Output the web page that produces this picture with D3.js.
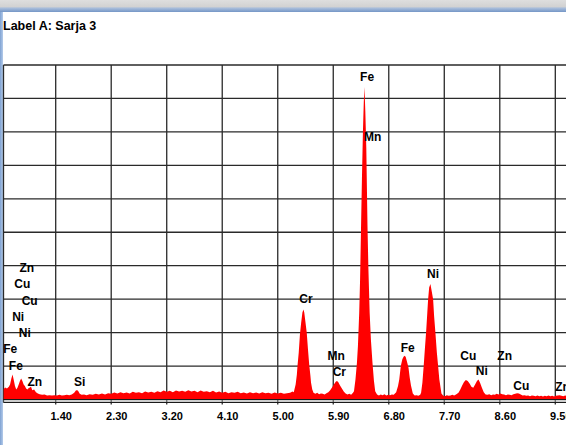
<!DOCTYPE html>
<html>
<head>
<meta charset="utf-8">
<script src="https://cdn.jsdelivr.net/npm/d3@7"></script>
<style>
body { margin: 0; background: #fff; overflow: hidden; }
svg { display: block; }
</style>
</head>
<body>
<script>
// title of the spectrum
var title = "Label A: Sarja 3";

// x axis ticks (keV)
var tickValues = [1.40, 2.30, 3.20, 4.10, 5.00, 5.90, 6.80, 7.70, 8.60, 9.50];

// horizontal grid levels (counts)
var gridLevels = [100, 200, 300, 400, 500, 600, 700, 800, 900, 1000];

// spectrum: [energy keV, counts]
var spectrum = [
    [0.55, 30], [0.58, 36], [0.61, 33], [0.64, 38], [0.66, 45], [0.68, 62], [0.70, 75], [0.72, 58],
    [0.74, 40], [0.76, 30], [0.78, 35], [0.80, 45], [0.82, 55], [0.84, 63], [0.86, 55], [0.88, 45],
    [0.90, 40], [0.92, 33], [0.94, 30], [0.96, 34], [0.98, 36], [1.00, 38], [1.02, 28], [1.05, 30],
    [1.08, 22], [1.11, 18], [1.14, 16], [1.18, 14], [1.22, 15], [1.26, 12], [1.30, 13], [1.34, 12],
    [1.38, 13], [1.42, 12], [1.46, 14], [1.50, 12], [1.54, 13], [1.58, 14], [1.62, 13], [1.66, 15],
    [1.70, 20], [1.73, 28], [1.76, 27], [1.79, 17], [1.82, 14], [1.86, 15], [1.90, 13], [1.95, 16],
    [2.00, 14], [2.05, 17], [2.10, 15], [2.15, 18], [2.20, 15], [2.25, 19], [2.30, 17], [2.35, 21],
    [2.40, 18], [2.45, 22], [2.50, 19], [2.55, 21], [2.60, 18], [2.65, 23], [2.70, 20], [2.75, 22],
    [2.80, 19], [2.85, 24], [2.90, 21], [2.95, 23], [3.00, 20], [3.05, 25], [3.10, 22], [3.15, 27],
    [3.20, 23], [3.25, 26], [3.30, 22], [3.35, 27], [3.40, 24], [3.45, 26], [3.50, 23], [3.55, 28],
    [3.60, 24], [3.65, 26], [3.70, 22], [3.75, 27], [3.80, 23], [3.85, 25], [3.90, 22], [3.95, 26],
    [4.00, 21], [4.05, 24], [4.10, 20], [4.15, 23], [4.20, 19], [4.25, 22], [4.30, 20], [4.35, 23],
    [4.40, 19], [4.45, 21], [4.50, 18], [4.55, 22], [4.60, 19], [4.65, 21], [4.70, 18], [4.75, 22],
    [4.80, 19], [4.85, 20], [4.90, 17], [4.95, 21], [5.00, 18], [5.05, 20], [5.10, 17], [5.15, 19],
    [5.20, 20], [5.24, 24], [5.26, 22], [5.29, 45], [5.31, 75], [5.32, 100], [5.34, 140], [5.36, 195],
    [5.38, 230], [5.40, 260], [5.417, 269], [5.43, 260], [5.45, 230], [5.47, 200], [5.49, 150], [5.51, 105],
    [5.53, 70], [5.54, 50], [5.56, 30], [5.58, 20], [5.61, 17], [5.64, 20], [5.67, 16], [5.70, 18],
    [5.73, 17], [5.76, 15], [5.79, 19], [5.82, 22], [5.85, 28], [5.88, 36], [5.91, 45], [5.94, 53],
    [5.96, 55], [5.98, 52], [6.01, 42], [6.04, 33], [6.07, 24], [6.10, 18], [6.13, 15], [6.16, 17],
    [6.19, 14], [6.22, 20], [6.236, 25], [6.26, 60], [6.284, 110], [6.30, 160], [6.321, 260], [6.335, 360],
    [6.349, 500], [6.365, 660], [6.381, 800], [6.395, 890], [6.406, 934], [6.42, 860], [6.436, 750], [6.455, 520],
    [6.47, 390], [6.49, 260], [6.51, 180], [6.536, 110], [6.56, 55], [6.58, 25], [6.61, 15], [6.64, 12],
    [6.67, 15], [6.70, 13], [6.73, 16], [6.76, 12], [6.79, 14], [6.82, 13], [6.85, 15], [6.88, 14],
    [6.92, 22], [6.95, 40], [6.97, 60], [6.995, 100], [7.02, 120], [7.04, 128], [7.058, 131], [7.075, 127],
    [7.10, 110], [7.12, 95], [7.14, 65], [7.16, 42], [7.19, 18], [7.22, 12], [7.25, 13], [7.28, 11],
    [7.31, 14], [7.324, 20], [7.345, 50], [7.366, 100], [7.385, 150], [7.405, 200], [7.425, 260], [7.438, 300],
    [7.455, 335], [7.475, 345], [7.49, 330], [7.519, 300], [7.535, 250], [7.556, 200], [7.58, 140], [7.60, 100],
    [7.62, 60], [7.64, 35], [7.654, 18], [7.68, 12], [7.71, 10], [7.74, 13], [7.77, 11], [7.80, 12],
    [7.83, 14], [7.86, 12], [7.89, 15], [7.93, 20], [7.96, 30], [7.99, 42], [8.02, 52], [8.05, 58],
    [8.08, 55], [8.11, 48], [8.14, 38], [8.17, 35], [8.20, 45], [8.23, 55], [8.255, 60], [8.28, 50],
    [8.31, 35], [8.34, 22], [8.37, 15], [8.40, 14], [8.43, 16], [8.46, 13], [8.49, 15], [8.52, 14],
    [8.55, 17], [8.58, 15], [8.61, 18], [8.64, 16], [8.67, 15], [8.70, 13], [8.73, 15], [8.76, 14],
    [8.79, 13], [8.82, 16], [8.85, 17], [8.88, 19], [8.91, 18], [8.94, 15], [8.97, 12], [9.00, 13],
    [9.03, 11], [9.06, 12], [9.09, 10], [9.12, 12], [9.15, 11], [9.18, 10], [9.21, 12], [9.24, 10],
    [9.27, 11], [9.30, 9], [9.33, 11], [9.36, 10], [9.39, 12], [9.42, 10], [9.45, 11], [9.48, 9],
    [9.51, 11], [9.54, 12], [9.57, 13], [9.60, 11], [9.63, 10], [9.66, 12], [9.69, 10], [9.72, 11]
];

// element markers: name, line energy (keV), label height (counts)
var peakLabels = [
    { el: "Fe", keV: 6.40, level: 952 },
    { el: "Mn", keV: 6.49, level: 773 },
    { el: "Cr", keV: 5.41, level: 288 },
    { el: "Mn", keV: 5.90, level: 118 },
    { el: "Cr", keV: 5.95, level: 69 },
    { el: "Fe", keV: 7.06, level: 143 },
    { el: "Ni", keV: 7.47, level: 363 },
    { el: "Cu", keV: 8.04, level: 118 },
    { el: "Ni", keV: 8.26, level: 72 },
    { el: "Zn", keV: 8.63, level: 118 },
    { el: "Cu", keV: 8.90, level: 28 },
    { el: "Zn", keV: 9.57, level: 25 },
    { el: "Zn", keV: 0.884, level: 381 },
    { el: "Cu", keV: 0.811, level: 333 },
    { el: "Cu", keV: 0.930, level: 283 },
    { el: "Ni", keV: 0.743, level: 235 },
    { el: "Ni", keV: 0.851, level: 187 },
    { el: "Fe", keV: 0.615, level: 139 },
    { el: "Fe", keV: 0.705, level: 88 },
    { el: "Zn", keV: 1.012, level: 39 },
    { el: "Si", keV: 1.74, level: 39 }
];

var width = 566;
var height = 445;
var plotLeft = 3.5;
var plotTop = 65;
var plotBottom = 399.5;

var svg = d3.select("body").append("svg").attr("width", width).attr("height", height);

// window frame
var defs = svg.append("defs");
var topGrad = defs.append("linearGradient").attr("id", "topGrad").attr("x1", 0).attr("y1", 0).attr("x2", 0).attr("y2", 1);
topGrad.append("stop").attr("offset", "0%").attr("stop-color", "#dedede");
topGrad.append("stop").attr("offset", "55%").attr("stop-color", "#d2d2d2");
topGrad.append("stop").attr("offset", "68%").attr("stop-color", "#a8bddb");
topGrad.append("stop").attr("offset", "100%").attr("stop-color", "#7496c6");
var leftGrad = defs.append("linearGradient").attr("id", "leftGrad").attr("x1", 0).attr("y1", 0).attr("x2", 1).attr("y2", 0);
leftGrad.append("stop").attr("offset", "0%").attr("stop-color", "#7fa2d2");
leftGrad.append("stop").attr("offset", "100%").attr("stop-color", "#b4cbea");
defs.append("clipPath").attr("id", "plotClip")
    .append("rect").attr("x", plotLeft).attr("y", plotTop).attr("width", width - plotLeft).attr("height", plotBottom - plotTop);

svg.append("rect").attr("x", 0).attr("y", 0).attr("width", width).attr("height", 12).attr("fill", "url(#topGrad)");
svg.append("rect").attr("x", 0).attr("y", 12).attr("width", 3).attr("height", height - 12).attr("fill", "url(#leftGrad)");

// scales
var x = d3.scaleLinear().domain([1.4, 9.5]).range([55.7, 555.3]);
var y = d3.scaleLinear().domain([0, 1000]).range([plotBottom, plotTop]);

// grid
svg.append("g").selectAll("line")
    .data(gridLevels)
    .enter()
    .append("line")
    .attr("x1", plotLeft)
    .attr("x2", width)
    .attr("y1", function (d) { return y(d); })
    .attr("y2", function (d) { return y(d); })
    .attr("stroke", "#2a2a2a")
    .attr("stroke-width", 1.3);

svg.append("g").selectAll("line")
    .data(tickValues)
    .enter()
    .append("line")
    .attr("x1", function (d) { return x(d); })
    .attr("x2", function (d) { return x(d); })
    .attr("y1", plotTop)
    .attr("y2", plotBottom + 5)
    .attr("stroke", "#2a2a2a")
    .attr("stroke-width", 1.3);

svg.append("line").attr("x1", plotLeft).attr("x2", plotLeft).attr("y1", plotTop).attr("y2", plotBottom + 3)
    .attr("stroke", "#2a2a2a").attr("stroke-width", 1.3);

// spectrum
var area = d3.area()
    .x(function (d) { return x(d[0]); })
    .y0(y(0))
    .y1(function (d) { return y(d[1]); });

svg.append("path")
    .datum(spectrum)
    .attr("clip-path", "url(#plotClip)")
    .attr("fill", "#ff0000")
    .attr("d", area);

// baseline (double line)
svg.append("line").attr("x1", plotLeft).attr("x2", width).attr("y1", plotBottom).attr("y2", plotBottom)
    .attr("stroke", "#1a1a1a").attr("stroke-width", 1);
svg.append("line").attr("x1", plotLeft).attr("x2", width).attr("y1", plotBottom + 1.5).attr("y2", plotBottom + 1.5)
    .attr("stroke", "#9a9a9a").attr("stroke-width", 1);
svg.append("line").attr("x1", plotLeft).attr("x2", width).attr("y1", plotBottom + 3).attr("y2", plotBottom + 3)
    .attr("stroke", "#1a1a1a").attr("stroke-width", 1);

// x axis labels
var xAxis = d3.axisBottom(x)
    .tickValues(tickValues)
    .tickFormat(d3.format(".2f"))
    .tickSize(0)
    .tickPadding(7);

var axisG = svg.append("g").attr("transform", "translate(0," + (plotBottom + 5.5) + ")").call(xAxis);
axisG.select(".domain").remove();
axisG.selectAll("text")
    .attr("x", 5)
    .attr("fill", "#000")
    .style("font-family", "'Liberation Sans', Arial, sans-serif")
    .style("font-size", "11px")
    .style("font-weight", "bold");

// element labels
svg.append("g").selectAll("text")
    .data(peakLabels)
    .enter()
    .append("text")
    .text(function (d) { return d.el; })
    .attr("x", function (d) { return x(d.keV) + 3; })
    .attr("y", function (d) { return y(d.level); })
    .attr("text-anchor", "middle")
    .attr("fill", "#000")
    .style("font-family", "'Liberation Sans', Arial, sans-serif")
    .style("font-size", "12px")
    .style("font-weight", "bold");

// title
svg.append("text")
    .text(title)
    .attr("x", 3)
    .attr("y", 30)
    .attr("fill", "#000")
    .style("font-family", "'Liberation Sans', Arial, sans-serif")
    .style("font-size", "12.5px")
    .style("font-weight", "bold");
</script>
</body>
</html>
